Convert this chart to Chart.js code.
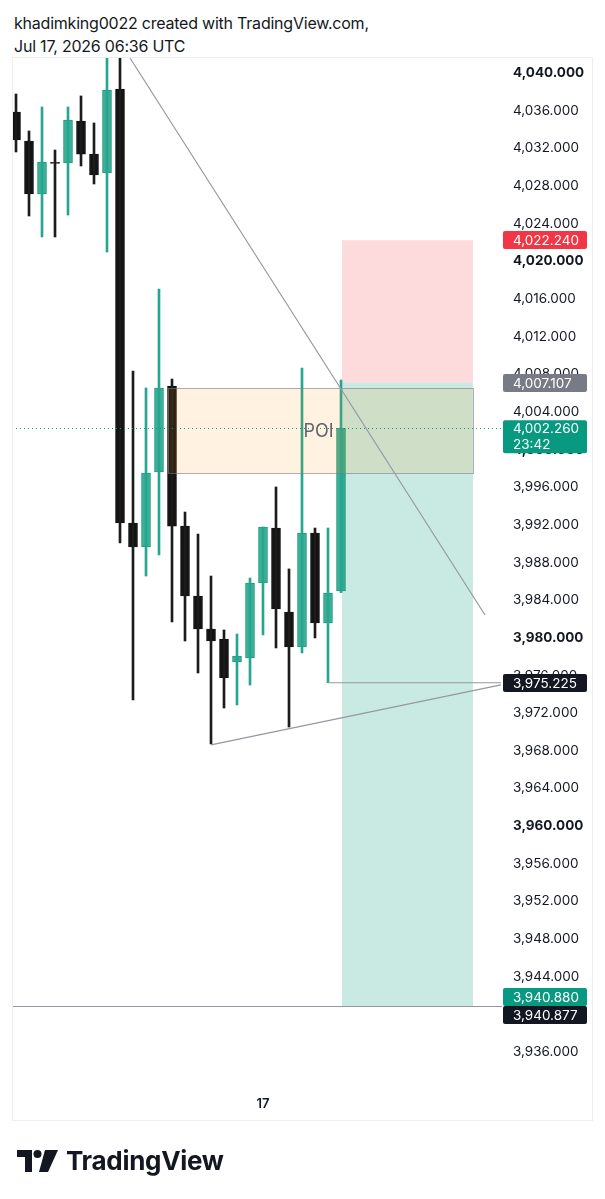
<!DOCTYPE html>
<html><head><meta charset="utf-8">
<script src="https://cdn.jsdelivr.net/npm/chart.js@4/dist/chart.umd.min.js"></script>
<style>
html,body{margin:0;padding:0;background:#fff;width:605px;height:1199px;overflow:hidden;font-family:Inter,"Noto Sans",sans-serif;}
#hdr{position:absolute;left:14px;top:12px;font-size:16px;line-height:23px;color:#131722;white-space:nowrap;letter-spacing:-0.22px;}
#cv{position:absolute;left:0;top:0;}
#logo{position:absolute;left:17px;top:1145px;display:flex;align-items:center;color:#131722;}
#logo span{font-family:Inter,sans-serif;font-weight:700;font-size:26px;letter-spacing:-0.3px;margin-left:7px;}
</style></head><body>
<div id="hdr">khadimking0022 created with TradingView.com,<br>Jul 17, 2026 06:36 UTC</div>
<canvas id="cv" width="605" height="1199"></canvas>
<div id="logo"><svg width="42" height="26" viewBox="0 0 42 26"><path d="M0 2h15v22h-7v-15h-8z" fill="#131722"/><circle cx="20.5" cy="6" r="4" fill="#131722"/><path d="M28 2h13l-10 22h-9z" fill="#131722"/></svg><span>TradingView</span></div>
<script>
// ---- data ----
const candleIndex = [0,1,2,3,4,5,6,7,8,9,10,11,12,13,14,15,16,17,18,19,20,21,22,23,24,25];
const opens  = [4035.86,4032.78,4027.15,4030.50,4030.44,4034.90,4031.39,4029.38,4038.30,3992.19,3989.64,3997.61,4006.75,3991.87,3984.44,3980.93,3979.87,3977.43,3977.85,3985.82,3991.66,3982.74,3979.02,3991.13,3981.57,3984.97];
const closes = [4032.88,4027.15,4030.55,4030.40,4035.01,4031.39,4029.16,4038.19,3992.19,3989.64,3997.51,4006.54,3991.87,3984.44,3980.93,3979.66,3975.73,3978.06,3985.82,3991.77,3983.06,3979.02,3991.13,3981.57,3984.76,4002.26];
const highs  = [4037.77,4033.84,4036.39,4031.82,4036.39,4037.56,4034.69,4041.59,4042.50,4008.34,4006.54,4017.05,4007.49,3993.36,3991.02,3986.56,3980.83,3980.40,3986.35,3991.77,3996.02,3987.31,4008.66,3991.66,3991.66,4007.39];
const lows   = [4031.61,4024.81,4022.58,4022.58,4024.91,4030.12,4028.21,4020.98,3990.07,3973.39,3986.56,3988.79,3981.68,3979.66,3976.26,3968.72,3972.54,3972.86,3974.98,3980.30,3978.92,3970.52,3978.38,3979.98,3975.225,3984.80];
const yTicks = [4040,4036,4032,4028,4024,4020,4016,4012,4008,4004,4000,3996,3992,3988,3984,3980,3976,3972,3968,3964,3960,3956,3952,3948,3944,3940,3936];
const xTickValues = [19];
const xTickLabels = ['17'];
// drawings (value space)
const poiBox = {x0:11.69, x1:35.15, top:4006.54, bottom:3997.51, label:'POI'};
const positionTool = {x0:25.08, x1:35.15, entry:4007.107, stop:4022.240, target:3940.880};
const trendA = [[8.77,4041.59],[36.08,3982.42]];
const trendB = [[15.0,3968.62],[37.3,3975.0]];
const levelLine = {x0:24, x1:37.3, y:3975.225};
const fullLine = 3940.877;
const lastPrice = 4002.260, countdown = '23:42';
const axisMarks = [
  {v:4022.240, text:'4,022.240', bg:'#f23645'},
  {v:4007.107, text:'4,007.107', bg:'#787b86'},
  {v:3975.225, text:'3,975.225', bg:'#131722'},
  {v:3940.880, text:'3,940.880', bg:'#089981', dy:-9},
  {v:3940.877, text:'3,940.877', bg:'#131722', dy:9}
];

const isUp = candleIndex.map(i => closes[i] >= opens[i]);
const fmt = v => v.toLocaleString('en-US',{minimumFractionDigits:3,maximumFractionDigits:3});

const overlay = {
  id:'overlay',
  afterDatasetsDraw(chart){
    const {ctx, chartArea:a, scales:{x,y}} = chart;
    ctx.save();
    ctx.beginPath(); ctx.rect(a.left,a.top,a.right-a.left,a.bottom-a.top); ctx.clip();
    const px0 = x.getPixelForValue(positionTool.x0), px1 = x.getPixelForValue(positionTool.x1);
    const yE = y.getPixelForValue(positionTool.entry), yS = y.getPixelForValue(positionTool.stop), yT = y.getPixelForValue(positionTool.target);
    ctx.fillStyle='rgba(242,54,69,0.18)'; ctx.fillRect(px0,yS,px1-px0,yE-yS);
    ctx.fillStyle='rgba(8,153,129,0.22)'; ctx.fillRect(px0,yE,px1-px0,yT-yE);
    const bx0 = x.getPixelForValue(poiBox.x0), bx1 = x.getPixelForValue(poiBox.x1);
    const by0 = y.getPixelForValue(poiBox.top), by1 = y.getPixelForValue(poiBox.bottom);
    ctx.fillStyle='rgba(255,152,0,0.12)'; ctx.fillRect(bx0,by0,bx1-bx0,by1-by0);
    ctx.strokeStyle='rgba(120,123,134,0.6)'; ctx.lineWidth=1;
    ctx.strokeRect(Math.round(bx0)+0.5,Math.round(by0)+0.5,Math.round(bx1-bx0),Math.round(by1-by0));
    ctx.fillStyle='#62656f'; ctx.font='18px Inter, sans-serif'; ctx.textAlign='center'; ctx.textBaseline='middle';
    ctx.fillText(poiBox.label,(bx0+bx1)/2-2,(by0+by1)/2+1);
    ctx.strokeStyle='#9598a1'; ctx.lineWidth=1.2;
    const seg = (x0,y0,x1,y1)=>{ctx.beginPath();ctx.moveTo(x.getPixelForValue(x0),y.getPixelForValue(y0));ctx.lineTo(x.getPixelForValue(x1),y.getPixelForValue(y1));ctx.stroke();};
    seg(trendA[0][0],trendA[0][1],trendA[1][0],trendA[1][1]);
    seg(trendB[0][0],trendB[0][1],trendB[1][0],trendB[1][1]);
    seg(levelLine.x0,levelLine.y,levelLine.x1,levelLine.y);
    const yf = Math.round(y.getPixelForValue(fullLine))+0.5;
    ctx.beginPath(); ctx.moveTo(a.left,yf); ctx.lineTo(a.right,yf); ctx.stroke();
    const yl = Math.round(y.getPixelForValue(lastPrice))+0.5;
    ctx.strokeStyle='#089981'; ctx.lineWidth=1; ctx.setLineDash([1,3]);
    ctx.beginPath(); ctx.moveTo(a.left,yl); ctx.lineTo(a.right,yl); ctx.stroke();
    ctx.restore();
  },
  afterDraw(chart){
    const {ctx, chartArea:a, scales:{y}} = chart;
    ctx.save();
    const bx = a.right+1, bw = 84;
    ctx.font='13.5px Inter, sans-serif'; ctx.textBaseline='middle'; ctx.textAlign='left';
    const box=(cy,h,bg)=>{ctx.fillStyle=bg;ctx.beginPath();ctx.roundRect(bx,cy-h/2,bw,h,2);ctx.fill();};
    axisMarks.forEach(m=>{
      const cy = Math.round(y.getPixelForValue(m.v)) + (m.dy||0);
      box(cy,18,m.bg); ctx.fillStyle='#ffffff'; ctx.fillText(m.text,bx+10,cy+0.5);
    });
    const cl = y.getPixelForValue(lastPrice);
    ctx.fillStyle='#089981'; ctx.beginPath(); ctx.roundRect(bx,cl-8,bw,33,2); ctx.fill();
    ctx.fillStyle='#ffffff'; ctx.fillText(fmt(lastPrice),bx+10,cl+0.5); ctx.fillText(countdown,bx+10,cl+17);
    ctx.strokeStyle='#eceef2'; ctx.lineWidth=1;
    ctx.strokeRect(12.5,57.5,580,1063);
    ctx.restore();
  }
};

const wickData = candleIndex.map(i=>({x:i,y:[lows[i],highs[i]]}));
const bodyData = candleIndex.map(i=>({x:i,y:[Math.min(opens[i],closes[i]),Math.max(opens[i],closes[i])]}));

new Chart(document.getElementById('cv'),{
  type:'bar',
  data:{datasets:[
    {data:wickData,grouped:false,barThickness:2,backgroundColor:isUp.map(u=>u?'#26a690':'#1c1c1c'),borderWidth:0},
    {data:bodyData,grouped:false,barThickness:9,backgroundColor:isUp.map(u=>u?'#3daf96':'#131313'),borderColor:isUp.map(u=>u?'#1f9a80':'#131313'),borderWidth:1,borderSkipped:false,minBarLength:1}
  ]},
  options:{
    responsive:false,animation:false,devicePixelRatio:1,
    layout:{padding:{left:12,top:57,right:12,bottom:79}},
    plugins:{legend:{display:false},tooltip:{enabled:false}},
    scales:{
      x:{type:'linear',min:-0.308,max:37.385,offset:false,
        grid:{display:false,drawTicks:false},border:{display:false},
        afterBuildTicks:ax=>{ax.ticks=xTickValues.map(v=>({value:v}));},
        afterFit:ax=>{ax.height=35;},
        ticks:{padding:11,color:'#131722',font:{family:'Inter',size:13,weight:'600'},maxRotation:0,autoSkip:false,
          callback:v=>{const k=xTickValues.indexOf(v);return k>=0?xTickLabels[k]:'';}}},
      y:{type:'linear',position:'right',min:3932.49,max:4041.70,
        grid:{display:false,drawTicks:false},border:{display:false},
        afterBuildTicks:ax=>{ax.ticks=yTicks.map(v=>({value:v}));},
        afterFit:ax=>{ax.width=91;},
        ticks:{padding:11,crossAlign:'near',color:'#131722',autoSkip:false,
          font:c=>({family:'Inter',size:13.5,weight:(c.tick&&c.tick.value%20===0)?'bold':'normal'}),
          callback:v=>fmt(v)}}
    }
  },
  plugins:[overlay]
});
</script>
</body></html>
